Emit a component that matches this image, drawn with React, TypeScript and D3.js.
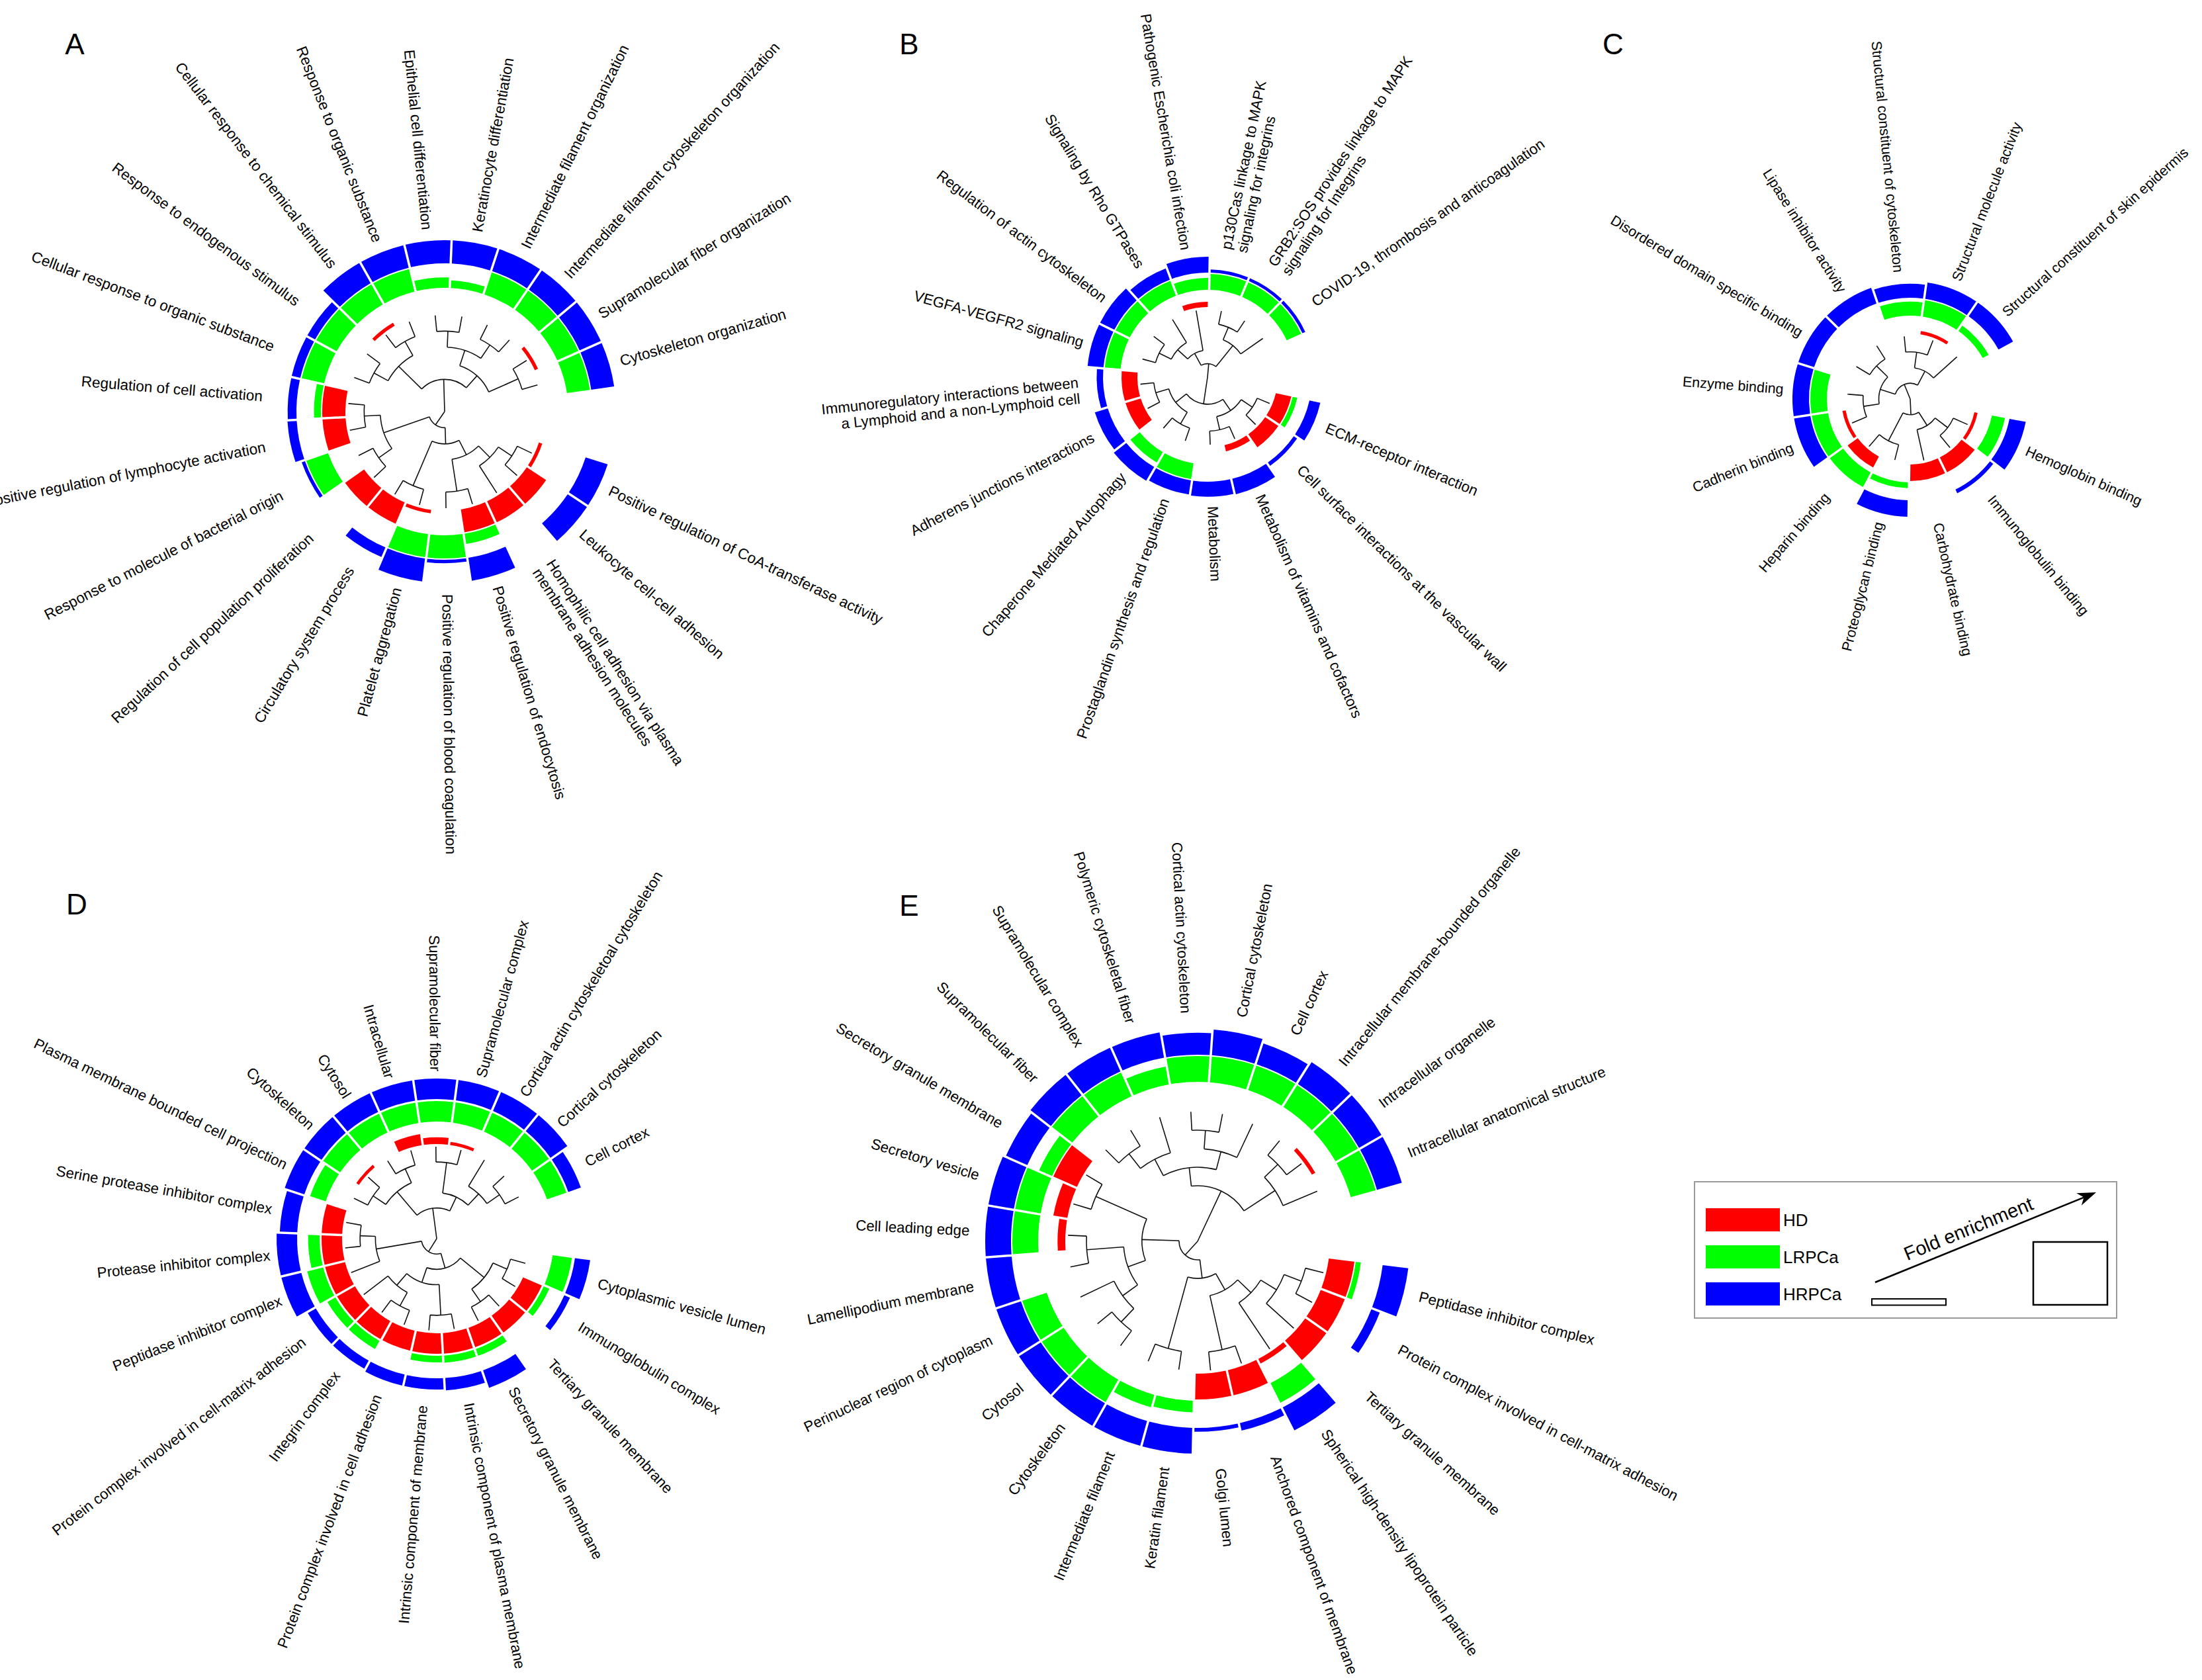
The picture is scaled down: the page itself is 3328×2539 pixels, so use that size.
import * as d3 from 'd3';

const W = 3328;
const H = 2539;
const FONT = '"Liberation Sans", Arial, Helvetica, sans-serif';
const TRACK_COLORS = ['#ff0000', '#00ff00', '#0000ff'];
const GROUPS = ['HD', 'LRPCa', 'HRPCa'];

type Tree = number | Tree[];

// ---- A: GO biological process ----
const termsA = [
  'Positive regulation of CoA-transferase activity',
  'Leukocyte cell-cell adhesion',
  'Homophilic cell adhesion via plasma\nmembrane adhesion molecules',
  'Positive regulation of endocytosis',
  'Positive regulation of blood coagulation',
  'Platelet aggregation',
  'Circulatory system process',
  'Regulation of cell population proliferation',
  'Response to molecule of bacterial origin',
  'Positive regulation of lymphocyte activation',
  'Regulation of cell activation',
  'Cellular response to organic substance',
  'Response to endogenous stimulus',
  'Cellular response to chemical stimulus',
  'Response to organic substance',
  'Epithelial cell differentiation',
  'Keratinocyte differentiation',
  'Intermediate filament organization',
  'Intermediate filament cytoskeleton organization',
  'Supramolecular fiber organization',
  'Cytoskeleton organization',
];
const hdA = [0.15, 1, 1, 1, 0, 0.15, 1, 1, 0, 1, 1, 0, 0, 0.15, 0, 0, 0, 0, 0, 0.15, 0];
const lrA = [0, 0, 0, 0.45, 1, 1, 0, 0, 1, 0, 0.3, 1, 1, 1, 1, 0.45, 0.33, 1, 1, 1, 1];
const hrA = [1, 1, 0, 1, 0.15, 1, 0.45, 0, 0.15, 0.4, 0.38, 0.38, 0.38, 1, 1, 1, 1, 1, 1, 1, 1];
const treeA: Tree = [
  [[[[[0, 1], 2], [3, 4]], [5, 6]], [[7, 8], [9, 10]]],
  [[[11, 12], [13, 14]], [[[15, 16], [17, 18]], [19, 20]]],
];

// ---- B: pathways ----
const termsB = [
  'ECM-receptor interaction',
  'Cell surface interactions at the vascular wall',
  'Metabolism of vitamins and cofactors',
  'Metabolism',
  'Prostaglandin synthesis and regulation',
  'Chaperone Mediated Autophagy',
  'Adherens junctions interactions',
  'Immunoregulatory interactions between\na Lymphoid and a non-Lymphoid cell',
  'VEGFA-VEGFR2 signaling',
  'Regulation of actin cytoskeleton',
  'Signaling by Rho GTPases',
  'Pathogenic Escherichia coli infection',
  'p130Cas linkage to MAPK\nsignaling for integrins',
  'GRB2:SOS provides linkage to MAPK\nsignaling for Integrins',
  'COVID-19, thrombosis and anticoagulation',
];
const hdB = [1, 1, 0.4, 0, 0, 0, 1, 1, 0, 0, 0, 0.33, 0, 0, 0];
const lrB = [0.3, 0, 0, 0, 1, 0.75, 0, 0, 1, 1, 1, 0.75, 1, 1, 1];
const hrB = [0.7, 0.25, 1, 0.95, 0.9, 1, 0.85, 0.4, 1, 1, 0.75, 1, 0.2, 0.2, 0.2];
const treeB: Tree = [
  [[[0, 1], [2, 3]], [[4, 5], [6, 7]]],
  [[[[8, 9], 10], 11], [[12, 13], 14]],
];

// ---- C: molecular function ----
const termsC = [
  'Hemoglobin binding',
  'Immunoglobulin binding',
  'Carbohydrate binding',
  'Proteoglycan binding',
  'Heparin binding',
  'Cadherin binding',
  'Enzyme binding',
  'Disordered domain specific binding',
  'Lipase inhibitor activity',
  'Structural constituent of cytoskeleton',
  'Structural molecule activity',
  'Structural constituent of skin epidermis',
];
const hdC = [0.2, 1, 1, 0, 0.75, 0.2, 0, 0, 0, 0, 0.2, 0];
const lrC = [0.8, 0, 0, 0.35, 1, 1, 1, 0, 0, 0.85, 1, 0.4];
const hrC = [1, 0.25, 0, 1, 0, 1, 1, 1, 1, 0.85, 1, 1];
const treeC: Tree = [[[[0, 1], 2], [3, 4]], [[[5, 6], [7, 8]], [[9, 10], 11]]];

// ---- D: cellular component ----
const termsD = [
  'Cytoplasmic vesicle lumen',
  'Immunoglobulin complex',
  'Tertiary granule membrane',
  'Secretory granule membrane',
  'Intrinsic component of plasma membrane',
  'Intrinsic component of membrane',
  'Protein complex involved in cell adhesion',
  'Integrin complex',
  'Protein complex involved in cell-matrix adhesion',
  'Peptidase inhibitor complex',
  'Protease inhibitor complex',
  'Serine protease inhibitor complex',
  'Plasma membrane bounded cell projection',
  'Cytoskeleton',
  'Cytosol',
  'Intracellular',
  'Supramolecular fiber',
  'Supramolecular complex',
  'Cortical actin cytoskeletoal cytoskeleton',
  'Cortical cytoskeleton',
  'Cell cortex',
];
const hdD = [0, 1, 1, 1, 1, 1, 1, 1, 1, 1, 1, 1, 0, 0.15, 0, 0.55, 0.33, 0.15, 0, 0, 0];
const lrD = [0.95, 0.3, 0, 0.35, 0.35, 0.32, 0, 0.45, 0.45, 0.8, 0.56, 0, 0.8, 1, 1, 1, 1, 1, 1, 1, 1];
const hrD = [0.75, 0.3, 0, 0.9, 0.6, 0.55, 0.55, 0.45, 0.45, 1, 1, 0.85, 1, 1, 1, 1, 1, 1, 1, 1, 0.65];
const treeD: Tree = [
  [[[[0, 1], [2, 3]], [[4, 5], [[6, 7], 8]]], [9, [10, 11]]],
  [[[12, 13], [14, 15]], [[16, 17], [18, [19, 20]]]],
];

// ---- E: cellular component ----
const termsE = [
  'Peptidase inhibitor complex',
  'Protein complex involved in cell-matrix adhesion',
  'Tertiary granule membrane',
  'Spherical high-density lipoprotein particle',
  'Anchored component of membrane',
  'Golgi lumen',
  'Keratin filament',
  'Intermediate filament',
  'Cytoskeleton',
  'Cytosol',
  'Perinuclear region of cytoplasm',
  'Lamellipodium membrane',
  'Cell leading edge',
  'Secretory vesicle',
  'Secretory granule membrane',
  'Supramolecular fiber',
  'Supramolecular complex',
  'Polymeric cytoskeletal fiber',
  'Cortical actin cytoskeleton',
  'Cortical cytoskeleton',
  'Cell cortex',
  'Intracellular membrane-bounded organelle',
  'Intracellular organelle',
  'Intracellular anatomical structure',
];
const hdE = [1, 1, 1, 0.2, 1, 1, 0, 0, 0, 0, 0, 0, 0.3, 0.55, 1, 0, 0, 0, 0, 0, 0, 0, 0.15, 0];
const lrE = [0.2, 0, 0, 0.85, 0, 0, 0.45, 0.5, 1, 1, 1, 0, 1, 1, 0.55, 1, 1, 0.7, 1, 1, 1, 1, 1, 1];
const hrE = [1, 0.35, 0, 1, 0.3, 0.15, 1, 1, 1, 1, 1, 1, 1, 1, 0.9, 1, 1, 1, 0.85, 1, 0.85, 1, 1, 1];
const treeE: Tree = [
  [[[[[[0, 1], 2], 3], [4, 5]], [6, 7]], [[[[8, 9], 10], [11, 12]], [13, 14]]],
  [[[[15, 16], 17], [[18, 19], 20]], [[21, 22], 23]],
];

interface PanelCfg {
  letter: string;
  lx: number;
  ly: number;
  terms: string[];
  series: number[][];
  tree: Tree;
  cx: number;
  cy: number;
  a0: number;
  a1: number;
  base: number;
  thick: number;
  gap: number;
  labelGap: number;
  font: number;
}

const panels: PanelCfg[] = [
  { letter: 'A', lx: 113, ly: 66, terms: termsA, series: [hdA, lrA, hrA], tree: treeA,
    cx: 672, cy: 622, a0: 25.5, a1: 344, base: 150, thick: 35, gap: 2, labelGap: 17, font: 22.6 },
  { letter: 'B', lx: 1374, ly: 66, terms: termsB, series: [hdB, lrB, hrB], tree: treeB,
    cx: 1825, cy: 570, a0: 23, a1: 325, base: 106, thick: 24, gap: 2, labelGap: 13, font: 22.3 },
  { letter: 'C', lx: 2438, ly: 66, terms: termsC, series: [hdC, lrC, hrC], tree: treeC,
    cx: 2887, cy: 603, a0: 24, a1: 318, base: 99, thick: 25, gap: 2, labelGap: 14, font: 21.5 },
  { letter: 'D', lx: 116, ly: 1366, terms: termsD, series: [hdD, lrD, hrD], tree: treeD,
    cx: 660, cy: 1872, a0: 15.5, a1: 333, base: 143, thick: 31, gap: 3, labelGap: 11, font: 22.3 },
  { letter: 'E', lx: 1374, ly: 1368, terms: termsE, series: [hdE, lrE, hrE], tree: treeE,
    cx: 1810, cy: 1876, a0: 14, a1: 337.3, base: 200, thick: 39, gap: 2, labelGap: 24, font: 22.3 },
];

const rad = (deg: number) => (deg * Math.PI) / 180;
const polar = (deg: number, r: number): [number, number] => [
  r * Math.cos(rad(deg)),
  r * Math.sin(rad(deg)),
];

function CircularPanel({ cfg }: { cfg: PanelCfg }) {
  const n = cfg.terms.length;
  const angle = d3.scaleLinear().domain([0, n - 1]).range([cfg.a0, cfg.a1]);
  const step = (cfg.a1 - cfg.a0) / (n - 1);
  const barWidth = d3.scaleLinear().domain([0, 1]).range([0, cfg.thick]);
  const tipR = cfg.base - 4;

  // dendrogram
  const root = d3.hierarchy<Tree>(cfg.tree, (d) => (Array.isArray(d) ? d : null));
  d3.cluster<Tree>().size([1, tipR]).separation(() => 1)(root);
  root.eachAfter((node: any) => {
    node.x = node.children
      ? d3.mean(node.children, (c: any) => c.x as number)
      : angle(node.data as number);
  });
  const treePaths: string[] = [];
  root.each((node: any) => {
    if (!node.children) return;
    const r = node.y as number;
    const xs = node.children.map((c: any) => c.x as number);
    const lo = d3.min(xs) as number;
    const hi = d3.max(xs) as number;
    const p = d3.path();
    if (r > 0.5) {
      const [x0, y0] = polar(lo, r);
      p.moveTo(x0, y0);
      p.arc(0, 0, r, rad(lo), rad(hi), false);
    }
    node.children.forEach((c: any) => {
      const [xa, ya] = polar(c.x, r);
      const [xb, yb] = polar(c.x, c.y);
      p.moveTo(xa, ya);
      p.lineTo(xb, yb);
    });
    treePaths.push(p.toString());
  });

  // bar tracks
  const arc = d3.arc<any>().padRadius((d: any) => d.innerRadius);
  const bars: { d: string; fill: string; key: string }[] = [];
  cfg.series.forEach((vals, k) => {
    const inner = cfg.base + k * (cfg.thick + cfg.gap);
    vals.forEach((v, i) => {
      if (!v) return;
      const a = angle(i) + 90;
      bars.push({
        key: `${k}-${i}`,
        fill: TRACK_COLORS[k],
        d: arc({
          innerRadius: inner,
          outerRadius: inner + barWidth(v),
          startAngle: rad(a - step / 2),
          endAngle: rad(a + step / 2),
          padAngle: 3.5 / inner,
        }) as string,
      });
    });
  });

  const labelR = cfg.base + 2 * (cfg.thick + cfg.gap) + cfg.thick + cfg.labelGap;
  const lineH = cfg.font * 1.1;

  return (
    <g>
      <text x={cfg.lx} y={cfg.ly} fontSize={44} textAnchor="middle" dominantBaseline="central"
        fontFamily={FONT}>{cfg.letter}</text>
      <g transform={`translate(${cfg.cx},${cfg.cy})`}>
        {treePaths.map((d, i) => (
          <path key={i} d={d} fill="none" stroke="#111" strokeWidth={1.6} />
        ))}
        {bars.map((b) => (
          <path key={b.key} d={b.d} fill={b.fill} />
        ))}
        {cfg.terms.map((t, i) => {
          const a = angle(i);
          const flip = a > 90 && a < 270;
          const lines = t.split('\n');
          return (
            <g key={i} transform={`rotate(${flip ? a + 180 : a})`}>
              {lines.map((ln, j) => (
                <text key={j} x={flip ? -labelR : labelR} y={(j - (lines.length - 1) / 2) * lineH}
                  textAnchor={flip ? 'end' : 'start'} dominantBaseline="central"
                  fontSize={cfg.font} fontFamily={FONT} fill="#000">{ln}</text>
              ))}
            </g>
          );
        })}
      </g>
    </g>
  );
}

function Legend() {
  const tip: [number, number] = [3168, 1802];
  const start: [number, number] = [2834, 1938];
  const len = Math.hypot(tip[0] - start[0], tip[1] - start[1]);
  const u = [(tip[0] - start[0]) / len, (tip[1] - start[1]) / len];
  const nrm = [-u[1], u[0]];
  const hb = [tip[0] - 28 * u[0], tip[1] - 28 * u[1]];
  const notch = [tip[0] - 20 * u[0], tip[1] - 20 * u[1]];
  const head = `M${tip[0]},${tip[1]} L${hb[0] + 10 * nrm[0]},${hb[1] + 10 * nrm[1]} L${notch[0]},${notch[1]} L${hb[0] - 10 * nrm[0]},${hb[1] - 10 * nrm[1]} Z`;
  const ang = (Math.atan2(tip[1] - start[1], tip[0] - start[0]) * 180) / Math.PI;
  return (
    <g fontFamily={FONT}>
      <rect x={2561} y={1786} width={638} height={206} fill="#fff" stroke="#999" strokeWidth={2} />
      {GROUPS.map((g, i) => (
        <g key={g}>
          <rect x={2578} y={1826 + i * 56} width={112} height={35} fill={TRACK_COLORS[i]} />
          <text x={2695} y={1844 + i * 56} fontSize={26} dominantBaseline="central">{g}</text>
        </g>
      ))}
      <line x1={start[0]} y1={start[1]} x2={notch[0]} y2={notch[1]} stroke="#000" strokeWidth={2.5} />
      <path d={head} fill="#000" />
      <text transform={`translate(2975,1857) rotate(${ang})`} textAnchor="middle" fontSize={29}
        dominantBaseline="central">Fold enrichment</text>
      <rect x={2829} y={1963} width={112} height={9.5} fill="none" stroke="#000" strokeWidth={2} />
      <rect x={3073} y={1877} width={112} height={95} fill="none" stroke="#000" strokeWidth={2.5} />
    </g>
  );
}

export default function App() {
  return (
    <svg width={W} height={H} viewBox={`0 0 ${W} ${H}`}
      style={{ position: 'absolute', left: 0, top: 0, background: '#fff' }}>
      <rect width={W} height={H} fill="#fff" />
      {panels.map((p) => (
        <CircularPanel key={p.letter} cfg={p} />
      ))}
      <Legend />
    </svg>
  );
}
